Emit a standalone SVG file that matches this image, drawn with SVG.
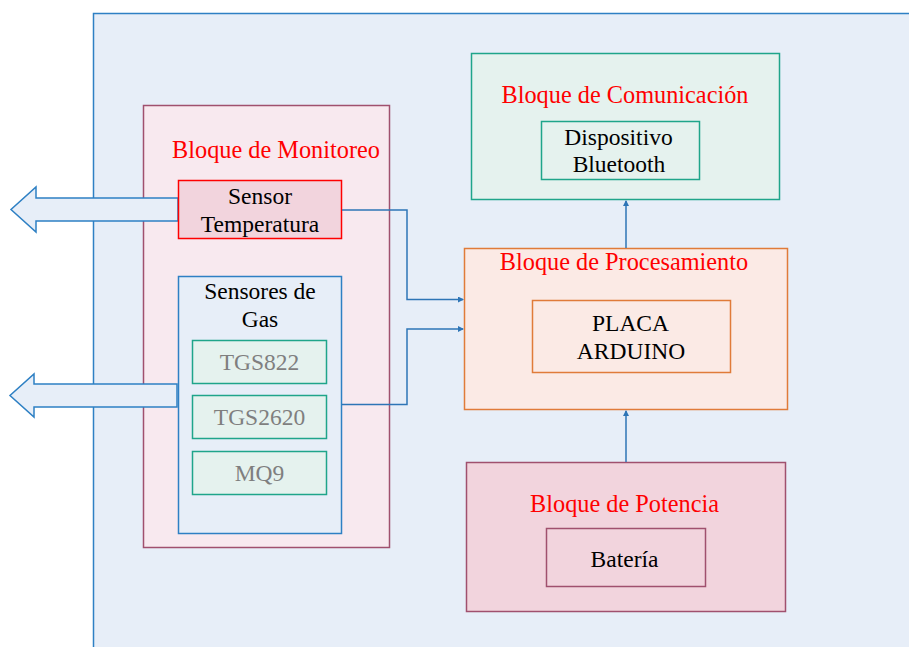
<svg xmlns="http://www.w3.org/2000/svg" width="909" height="647" viewBox="0 0 909 647">
<style>
text{font-family:'Liberation Serif','Times New Roman','DejaVu Serif',serif;font-size:23.5px;text-anchor:middle}
.title{fill:#FF0000;font-size:24.3px}
.dark{fill:#000}
.gray{fill:#7F7F7F}
.conn{fill:none;stroke:#2E75B6;stroke-width:1.5}
.bigarrow{fill:#E7EEF8;stroke:#2E80C4;stroke-width:1.5}
</style>
<defs>
<marker id="ah" markerWidth="6" markerHeight="6" refX="5" refY="3" orient="auto" markerUnits="userSpaceOnUse">
<path d="M0,0 L6,3 L0,6 z" fill="#2E75B6"/>
</marker>
</defs>
<rect x="0" y="0" width="909" height="647" fill="#fff"/>
<g id="outer">
<rect x="93.5" y="13.5" width="830" height="650" fill="#E7EEF8" stroke="#2E80C4" stroke-width="1.5"/>
</g>
<g id="monitoreo">
<rect x="143.5" y="105.5" width="246" height="442" fill="#F8E9EF" stroke="#A0506E" stroke-width="1.5"/>
<text x="276" y="158" class="title">Bloque de Monitoreo</text>
</g>
<g id="arrow-temp">
<path class="bigarrow" d="M178,198 L36,198 L36,187 L11,209.5 L36,232 L36,221 L178,221 Z"/>
</g>
<g id="arrow-gas">
<path class="bigarrow" d="M177,384 L34,384 L34,374 L10,395.5 L34,417 L34,407 L177,407 Z"/>
</g>
<g id="sensor-temp">
<rect x="178.5" y="180.5" width="163" height="58" fill="#F2D4DD" stroke="#FF0000" stroke-width="1.5"/>
<text x="260" y="204" class="dark">Sensor</text>
<text x="260" y="231.5" class="dark">Temperatura</text>
</g>
<g id="sensores-gas">
<rect x="178.5" y="276.5" width="163" height="257" fill="#E7EEF8" stroke="#2E80C4" stroke-width="1.5"/>
<text x="260" y="299" class="dark">Sensores de</text>
<text x="260" y="327" class="dark">Gas</text>
</g>
<g id="tgs822">
<rect x="192.5" y="340.5" width="134" height="43" fill="#E5F2EE" stroke="#1FA58A" stroke-width="1.5"/>
<text x="259.5" y="370" class="gray">TGS822</text>
</g>
<g id="tgs2620">
<rect x="192.5" y="395.5" width="134" height="43" fill="#E5F2EE" stroke="#1FA58A" stroke-width="1.5"/>
<text x="259.5" y="425" class="gray">TGS2620</text>
</g>
<g id="mq9">
<rect x="192.5" y="451.5" width="134" height="43" fill="#E5F2EE" stroke="#1FA58A" stroke-width="1.5"/>
<text x="259.5" y="481" class="gray">MQ9</text>
</g>
<g id="comunicacion">
<rect x="471.5" y="53.5" width="308" height="146" fill="#E5F2EE" stroke="#1FA58A" stroke-width="1.5"/>
<text x="625" y="103" class="title">Bloque de Comunicación</text>
</g>
<g id="bluetooth">
<rect x="541.5" y="121.5" width="158" height="58" fill="#E5F2EE" stroke="#1FA58A" stroke-width="1.5"/>
<text x="618.5" y="145" class="dark">Dispositivo</text>
<text x="619" y="172" class="dark">Bluetooth</text>
</g>
<g id="procesamiento">
<rect x="464.5" y="248.5" width="323" height="161" fill="#FBEAE5" stroke="#E07B39" stroke-width="1.5"/>
<text x="624" y="270" class="title">Bloque de Procesamiento</text>
</g>
<g id="arduino">
<rect x="532.5" y="300.5" width="198" height="72" fill="#FBEAE5" stroke="#E07B39" stroke-width="1.5"/>
<text x="630.5" y="331" class="dark">PLACA</text>
<text x="631" y="358.5" class="dark">ARDUINO</text>
</g>
<g id="potencia">
<rect x="466.5" y="462.5" width="319" height="149" fill="#F2D4DD" stroke="#A0506E" stroke-width="1.5"/>
<text x="624.5" y="512" class="title">Bloque de Potencia</text>
</g>
<g id="bateria">
<rect x="546.5" y="528.5" width="159" height="58" fill="#F2D4DD" stroke="#A0506E" stroke-width="1.5"/>
<text x="624.5" y="566.5" class="dark">Batería</text>
</g>
<g id="connectors">
<path class="conn" d="M342,210 L407,210 L407,299.5 L463,299.5" marker-end="url(#ah)"/>
<path class="conn" d="M342,404.5 L407,404.5 L407,329 L463,329" marker-end="url(#ah)"/>
<path class="conn" d="M626,248 L626,201" marker-end="url(#ah)"/>
<path class="conn" d="M626,462 L626,411" marker-end="url(#ah)"/>
</g>
</svg>
